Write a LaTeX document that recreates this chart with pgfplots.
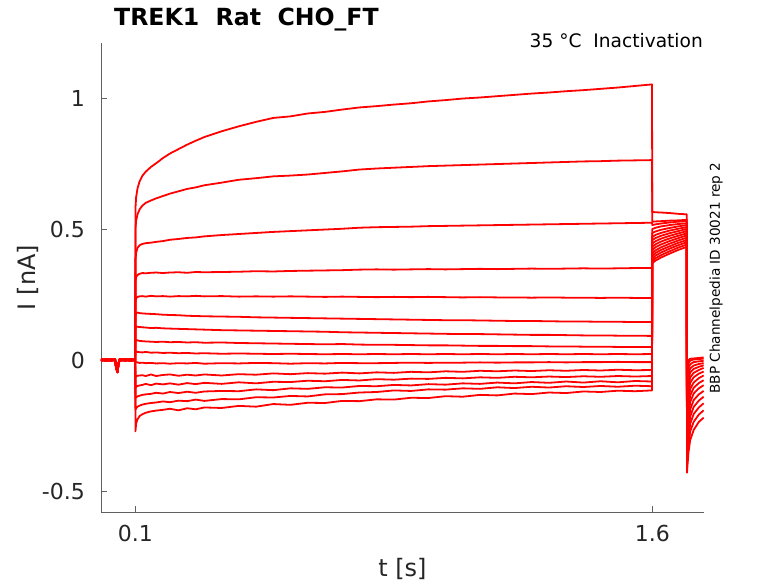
\documentclass[border=0pt]{standalone}
\usepackage{pgfplots}
\usepackage{pgfplotstable}
\pgfplotsset{compat=1.18}
\usepackage{fontspec}
\setmainfont{DejaVu Sans}
\definecolor{axgray}{rgb}{0.38,0.38,0.38}
\definecolor{txt}{rgb}{0.15,0.15,0.15}
\pgfplotstableread{
t y1 y2 y3 y4 y5 y6 y7 y8 y9 y10 y11 y12 y13 y14 y15
0.000 0.003 -0.002 0.004 0.000 -0.003 0.002 -0.004 0.001 0.003 -0.002 0.000 0.004 -0.003 0.002 -0.001
0.015 -0.002 0.004 0.000 -0.004 0.003 -0.001 0.002 -0.003 0.000 0.004 -0.002 0.001 0.003 -0.004 0.002
0.030 0.004 -0.001 -0.003 0.002 0.000 0.004 -0.002 0.003 -0.004 0.001 0.003 -0.003 0.000 0.002 -0.002
0.041 -0.001 0.002 0.003 -0.003 0.002 -0.002 0.004 0.000 0.002 -0.003 0.001 0.003 -0.002 0.000 0.004
0.044 -0.030 -0.028 -0.032 -0.029 -0.031 -0.030 -0.027 -0.033 -0.030 -0.029 -0.031 -0.028 -0.032 -0.030 -0.029
0.048 -0.045 -0.043 -0.047 -0.044 -0.046 -0.045 -0.042 -0.048 -0.045 -0.044 -0.046 -0.043 -0.047 -0.045 -0.044
0.051 -0.012 -0.010 -0.014 -0.011 -0.013 -0.012 -0.009 -0.015 -0.012 -0.011 -0.013 -0.010 -0.014 -0.012 -0.011
0.054 0.002 -0.003 0.004 0.000 -0.002 0.003 -0.004 0.001 0.002 -0.003 0.004 0.000 -0.001 0.003 -0.002
0.070 -0.003 0.003 -0.001 0.004 0.001 -0.003 0.002 -0.002 0.004 0.000 -0.003 0.002 0.003 -0.001 0.001
0.085 0.004 0.000 0.002 -0.003 -0.004 0.001 0.003 0.004 -0.002 0.002 0.001 -0.004 0.000 0.003 -0.003
0.0995 0.001 -0.002 0.003 0.002 0.000 -0.003 0.001 -0.001 0.003 -0.002 0.002 0.000 -0.003 0.001 0.002
0.100 0.580 0.500 0.380 0.300 0.225 0.170 0.120 0.075 0.035 -0.010 -0.066 -0.105 -0.145 -0.190 -0.272
0.102 0.622 0.532 0.410 0.316 0.236 0.180 0.128 0.077 0.033 -0.008 -0.062 -0.102 -0.142 -0.184 -0.242
0.106 0.655 0.556 0.428 0.325 0.241 0.181 0.127 0.075 0.031 -0.009 -0.060 -0.099 -0.139 -0.178 -0.226
0.112 0.682 0.575 0.438 0.329 0.243 0.179 0.126 0.073 0.030 -0.011 -0.059 -0.097 -0.136 -0.174 -0.214
0.120 0.703 0.589 0.443 0.332 0.244 0.178 0.125 0.072 0.029 -0.010 -0.058 -0.095 -0.133 -0.170 -0.207
0.130 0.719 0.600 0.446 0.331 0.242 0.177 0.124 0.071 0.031 -0.012 -0.061 -0.091 -0.131 -0.167 -0.201
0.145 0.737 0.609 0.448 0.333 0.245 0.176 0.122 0.070 0.028 -0.011 -0.055 -0.096 -0.129 -0.164 -0.196
0.160 0.751 0.617 0.451 0.334 0.243 0.175 0.123 0.069 0.029 -0.013 -0.061 -0.090 -0.125 -0.162 -0.193
0.180 0.771 0.626 0.454 0.332 0.244 0.173 0.121 0.070 0.027 -0.012 -0.057 -0.093 -0.128 -0.158 -0.190
0.200 0.788 0.635 0.459 0.334 0.242 0.172 0.120 0.068 0.028 -0.014 -0.055 -0.089 -0.122 -0.161 -0.186
0.225 0.805 0.644 0.462 0.335 0.244 0.171 0.119 0.069 0.026 -0.012 -0.060 -0.094 -0.126 -0.155 -0.192
0.250 0.822 0.653 0.466 0.333 0.243 0.169 0.118 0.067 0.027 -0.013 -0.056 -0.088 -0.121 -0.157 -0.184
0.275 0.837 0.659 0.468 0.336 0.245 0.168 0.117 0.068 0.025 -0.011 -0.059 -0.092 -0.125 -0.151 -0.188
0.300 0.851 0.667 0.472 0.335 0.243 0.167 0.116 0.066 0.026 -0.014 -0.055 -0.087 -0.120 -0.156 -0.181
0.350 0.873 0.677 0.477 0.336 0.244 0.166 0.114 0.067 0.024 -0.012 -0.059 -0.091 -0.118 -0.149 -0.183
0.400 0.892 0.688 0.481 0.337 0.242 0.165 0.113 0.065 0.025 -0.013 -0.054 -0.085 -0.119 -0.150 -0.175
0.450 0.909 0.694 0.485 0.339 0.243 0.163 0.112 0.064 0.024 -0.011 -0.056 -0.089 -0.112 -0.142 -0.178
0.500 0.924 0.701 0.489 0.338 0.242 0.162 0.111 0.063 0.023 -0.012 -0.051 -0.083 -0.115 -0.143 -0.168
0.550 0.930 0.704 0.492 0.340 0.243 0.161 0.110 0.062 0.024 -0.014 -0.054 -0.084 -0.108 -0.137 -0.171
0.600 0.941 0.708 0.495 0.341 0.242 0.160 0.109 0.061 0.023 -0.012 -0.050 -0.079 -0.110 -0.139 -0.163
0.650 0.947 0.714 0.498 0.342 0.241 0.159 0.108 0.060 0.022 -0.013 -0.052 -0.081 -0.104 -0.131 -0.164
0.700 0.956 0.720 0.501 0.343 0.242 0.158 0.106 0.061 0.023 -0.011 -0.048 -0.076 -0.105 -0.130 -0.156
0.750 0.964 0.727 0.505 0.345 0.241 0.157 0.105 0.059 0.022 -0.012 -0.051 -0.078 -0.099 -0.124 -0.157
0.800 0.969 0.731 0.507 0.346 0.240 0.156 0.104 0.058 0.023 -0.012 -0.047 -0.073 -0.100 -0.122 -0.150
0.850 0.975 0.734 0.508 0.345 0.241 0.155 0.103 0.058 0.022 -0.011 -0.049 -0.075 -0.095 -0.116 -0.151
0.900 0.980 0.737 0.509 0.346 0.240 0.154 0.102 0.057 0.023 -0.010 -0.045 -0.071 -0.097 -0.118 -0.144
0.950 0.987 0.740 0.511 0.347 0.241 0.153 0.101 0.056 0.022 -0.011 -0.047 -0.072 -0.092 -0.112 -0.145
1.000 0.992 0.742 0.512 0.346 0.240 0.152 0.100 0.056 0.023 -0.010 -0.043 -0.068 -0.094 -0.113 -0.138
1.050 0.998 0.744 0.513 0.347 0.239 0.152 0.099 0.055 0.022 -0.010 -0.045 -0.070 -0.089 -0.108 -0.140
1.100 1.002 0.746 0.514 0.348 0.240 0.151 0.099 0.054 0.023 -0.009 -0.041 -0.066 -0.091 -0.110 -0.133
1.150 1.007 0.748 0.515 0.347 0.239 0.150 0.098 0.054 0.022 -0.010 -0.043 -0.068 -0.086 -0.104 -0.135
1.200 1.012 0.750 0.516 0.348 0.239 0.149 0.097 0.053 0.023 -0.009 -0.040 -0.064 -0.089 -0.107 -0.128
1.250 1.017 0.752 0.517 0.349 0.238 0.149 0.096 0.053 0.022 -0.009 -0.042 -0.066 -0.084 -0.102 -0.130
1.300 1.021 0.754 0.518 0.348 0.239 0.148 0.096 0.052 0.023 -0.008 -0.039 -0.063 -0.087 -0.105 -0.124
1.350 1.026 0.756 0.519 0.349 0.238 0.147 0.095 0.052 0.022 -0.009 -0.041 -0.065 -0.082 -0.100 -0.126
1.400 1.030 0.758 0.520 0.350 0.238 0.147 0.094 0.051 0.023 -0.008 -0.038 -0.062 -0.086 -0.103 -0.120
1.450 1.035 0.759 0.521 0.349 0.237 0.146 0.094 0.051 0.022 -0.008 -0.040 -0.064 -0.081 -0.099 -0.122
1.500 1.040 0.761 0.522 0.350 0.238 0.146 0.093 0.050 0.023 -0.007 -0.037 -0.061 -0.085 -0.102 -0.117
1.550 1.046 0.762 0.523 0.351 0.237 0.145 0.093 0.050 0.022 -0.008 -0.039 -0.063 -0.080 -0.098 -0.119
1.599 1.052 0.763 0.524 0.351 0.237 0.145 0.092 0.050 0.023 -0.008 -0.038 -0.061 -0.082 -0.100 -0.116
1.600 0.565 0.528 0.515 0.500 0.485 0.470 0.458 0.445 0.432 0.420 0.408 0.397 0.387 0.378 0.370
1.610 0.564 0.529 0.518 0.505 0.491 0.478 0.466 0.454 0.442 0.431 0.419 0.409 0.399 0.389 0.380
1.625 0.563 0.530 0.521 0.510 0.497 0.485 0.474 0.463 0.452 0.441 0.430 0.420 0.410 0.400 0.391
1.650 0.561 0.532 0.525 0.515 0.504 0.494 0.484 0.474 0.464 0.454 0.444 0.434 0.425 0.415 0.406
1.675 0.558 0.533 0.528 0.519 0.510 0.501 0.492 0.483 0.474 0.465 0.456 0.447 0.438 0.429 0.420
1.700 0.556 0.535 0.530 0.522 0.515 0.507 0.500 0.492 0.484 0.476 0.467 0.458 0.450 0.441 0.432
1.7005 -0.050 -0.080 -0.100 -0.130 -0.160 -0.190 -0.220 -0.250 -0.280 -0.300 -0.330 -0.350 -0.380 -0.400 -0.430
1.705 0.000 -0.012 -0.030 -0.050 -0.072 -0.100 -0.128 -0.158 -0.188 -0.215 -0.245 -0.272 -0.300 -0.325 -0.352
1.710 0.005 -0.002 -0.016 -0.032 -0.047 -0.066 -0.087 -0.110 -0.135 -0.160 -0.188 -0.215 -0.243 -0.272 -0.305
1.720 0.006 0.002 -0.008 -0.021 -0.034 -0.049 -0.066 -0.086 -0.106 -0.128 -0.153 -0.179 -0.206 -0.236 -0.267
1.735 0.008 0.004 -0.005 -0.015 -0.026 -0.038 -0.052 -0.069 -0.088 -0.108 -0.131 -0.155 -0.181 -0.208 -0.236
1.749 0.010 0.005 -0.003 -0.012 -0.020 -0.030 -0.044 -0.059 -0.077 -0.096 -0.118 -0.140 -0.165 -0.192 -0.220
}\data
\begin{document}
\begin{tikzpicture}
\begin{axis}[
  at={(0,0)}, anchor=south west,
  scale only axis, width=603bp, height=469bp,
  xmin=0, xmax=1.75, ymin=-0.58, ymax=1.21,
  axis lines*=left,
  axis line style={axgray, line width=0.6bp},
  tick style={axgray, line width=0.6bp},
  tick align=inside, major tick length=6bp,
  xtick={0.1,1.6}, xticklabels={0.1,1.6},
  ytick={-0.5,0,0.5,1}, yticklabels={-0.5,0,0.5,1},
  ticklabel style={font=\fontsize{22bp}{26bp}\selectfont, text=txt, inner sep=0pt},
  xticklabel style={anchor=north, yshift=-13bp},
  yticklabel style={anchor=east, xshift=-16bp},
  clip=true,
]
\pgfplotsinvokeforeach{1,...,15}{
  \addplot[red, line width=1.8bp, line join=round] table[x=t, y=y#1] {\data};
}
\end{axis}
\node[anchor=base west, inner sep=0pt, font=\bfseries\fontsize{23.6bp}{28bp}\selectfont] at (13bp,486bp) {TREK1\ \ Rat\ \ CHO\_FT};
\node[anchor=base east, inner sep=0pt, font=\fontsize{18.6bp}{22bp}\selectfont] at (602bp,464.7bp) {35 °C\ \ Inactivation};
\node[rotate=90, inner sep=0pt, font=\fontsize{13.6bp}{16bp}\selectfont] at (615bp,234bp) {BBP Channelpedia ID 30021 rep 2};
\node[rotate=90, inner sep=0pt, text=txt, font=\fontsize{24bp}{28bp}\selectfont] at (-73bp,234.5bp) {I [nA]};
\node[inner sep=0pt, text=txt, font=\fontsize{24bp}{28bp}\selectfont] at (301.5bp,-57bp) {t [s]};
\pgfresetboundingbox
\path (-101bp,-71bp) rectangle (677bp,512bp);
\end{tikzpicture}
\end{document}
